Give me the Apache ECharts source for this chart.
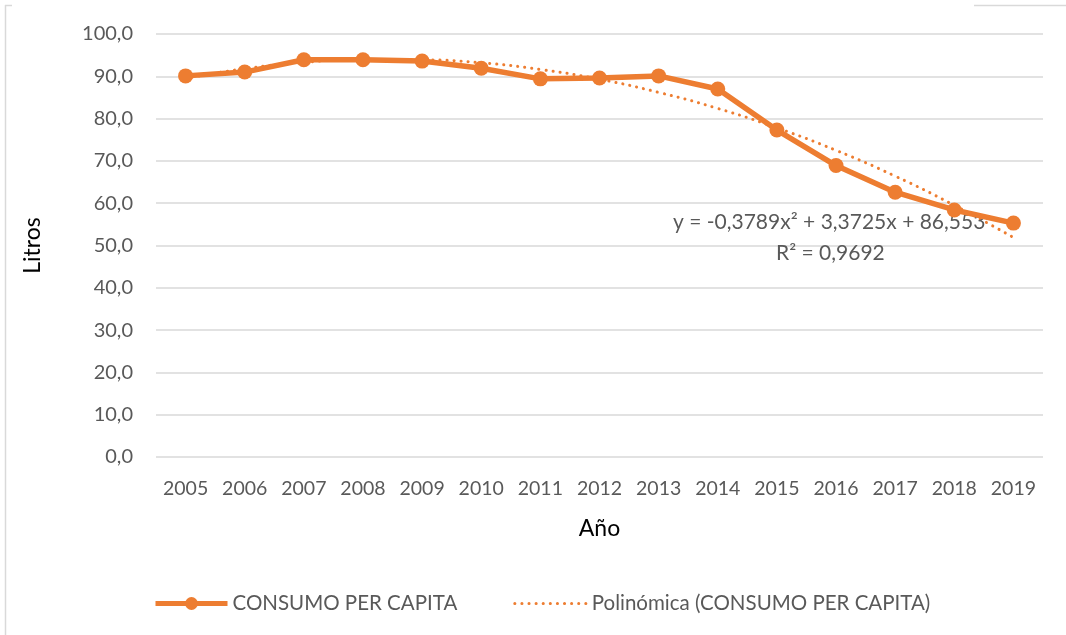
<!DOCTYPE html>
<html>
<head>
<meta charset="utf-8">
<script src="https://cdn.jsdelivr.net/npm/echarts@6/dist/echarts.min.js"></script>
<style>
  html, body { margin: 0; padding: 0; background: #fff; }
  #chart { width: 1066px; height: 635px; }
</style>
</head>
<body>
<div id="chart"></div>
<script>
// años y consumo (litros por persona)
const years = ["2005", "2006", "2007", "2008", "2009", "2010", "2011", "2012", "2013", "2014", "2015", "2016", "2017", "2018", "2019"];
const consumo = [90.1, 91.0, 93.9, 93.9, 93.6, 91.9, 89.4, 89.6, 90.1, 87.0, 77.3, 68.9, 62.6, 58.4, 55.3];
// línea de tendencia polinómica
const tendencia = [89.5, 91.8, 93.3, 94.0, 93.9, 93.2, 91.6, 89.3, 86.2, 82.4, 77.8, 72.5, 66.4, 59.5, 51.9];
const ecuacion = "y = -0,3789x² + 3,3725x + 86,553";
const r2 = "R² = 0,9692";

const naranja = "#ED7D31";
const gris = "#595959";
const fuente = "Lato";

const chart = echarts.init(document.getElementById("chart"));
chart.setOption({
  animation: false,
  textStyle: { fontFamily: fuente },
  grid: { left: 156, right: 23, top: 34, bottom: 178 },
  legend: {
    left: 148,
    top: 588,
    itemWidth: 72,
    itemHeight: 16,
    itemGap: 56,
    textStyle: { fontSize: 20.5, color: gris, fontFamily: fuente },
    data: [
      { name: "CONSUMO PER CAPITA", lineStyle: { width: 5 } },
      { name: "Polinómica (CONSUMO PER CAPITA)", itemStyle: { opacity: 0 }, lineStyle: { width: 3 } }
    ]
  },
  xAxis: {
    type: "category",
    data: years,
    name: "Año",
    nameLocation: "middle",
    nameGap: 60,
    nameTextStyle: { fontSize: 23, color: "#000", fontFamily: fuente },
    axisLine: { show: false },
    axisTick: { show: false },
    axisLabel: { interval: 0, fontSize: 19.5, color: gris, margin: 22, fontFamily: fuente }
  },
  yAxis: {
    type: "value",
    min: 0,
    max: 100,
    interval: 10,
    name: "Litros",
    nameLocation: "middle",
    nameGap: 112,
    nameTextStyle: { fontSize: 23, color: "#000", fontFamily: fuente },
    axisLabel: {
      fontSize: 20, color: gris, margin: 23, fontFamily: fuente,
      formatter: v => v.toFixed(1).replace(".", ",")
    },
    splitLine: { lineStyle: { color: "#d9d9d9", width: 1.5 } }
  },
  series: [
    {
      name: "Polinómica (CONSUMO PER CAPITA)",
      type: "line",
      data: tendencia,
      smooth: true,
      symbol: "none",
      z: 1,
      lineStyle: { color: naranja, width: 3, type: [0.1, 7], cap: "round" },
      itemStyle: { color: naranja }
    },
    {
      name: "CONSUMO PER CAPITA",
      type: "line",
      data: consumo,
      symbol: "circle",
      symbolSize: 15,
      z: 3,
      lineStyle: { color: naranja, width: 5.5 },
      itemStyle: { color: naranja }
    }
  ],
  graphic: [
    { type: "line", shape: { x1: 5.5, y1: 5, x2: 5.5, y2: 635 }, style: { stroke: "#d9d9d9", lineWidth: 1.5 } },
    { type: "line", shape: { x1: 5, y1: 5.5, x2: 12, y2: 5.5 }, style: { stroke: "#d9d9d9", lineWidth: 1.5 } },
    { type: "line", shape: { x1: 974, y1: 5.5, x2: 1066, y2: 5.5 }, style: { stroke: "#d9d9d9", lineWidth: 1.5 } },
    {
      type: "text", left: 673, top: 212, z: 2,
      style: { text: ecuacion, fontSize: 21, fill: gris, fontFamily: fuente }
    },
    {
      type: "text", left: 776, top: 243, z: 2,
      style: { text: r2, fontSize: 21, fill: gris, fontFamily: fuente }
    }
  ]
});
</script>
</body>
</html>
